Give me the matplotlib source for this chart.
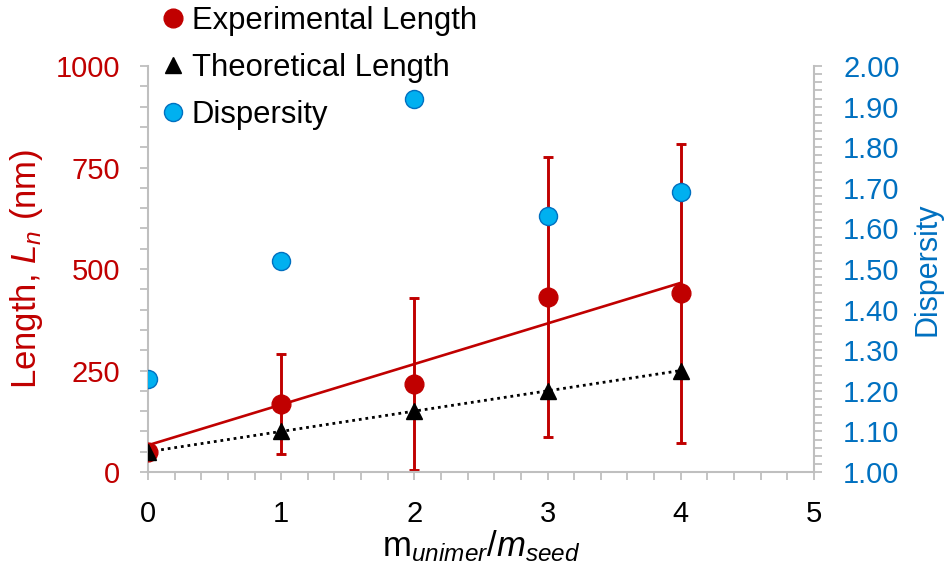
import matplotlib
matplotlib.use("Agg")
import matplotlib.pyplot as plt
from matplotlib.ticker import MultipleLocator, FormatStrFormatter
import numpy as np

plt.rcParams["font.family"] = ["Liberation Sans", "DejaVu Sans"]
plt.rcParams["mathtext.fontset"] = "custom"
plt.rcParams["mathtext.rm"] = "Liberation Sans"
plt.rcParams["mathtext.it"] = "Liberation Sans:italic"

# data
ratio = np.array([0, 1, 2, 3, 4])
exp_length = np.array([50, 167, 217, 432, 440])
exp_err = np.array([16, 123, 212, 345, 368])
theo_length = np.array([50, 100, 150, 200, 250])
dispersity = np.array([1.23, 1.52, 1.92, 1.63, 1.69])
# Excel linear trendline on experimental length (slope, intercept)
exp_trend = (100.0, 66.0)

RED = "#c00000"
BLUE_FILL = "#00b0f0"
BLUE_TXT = "#0070c0"
GREY = "#bfbfbf"

fig = plt.figure(figsize=(9.46, 5.66), dpi=100)
ax = fig.add_axes([0.1564, 0.166, 0.704, 0.7173])
ax2 = ax.twinx()

ax.errorbar(ratio, exp_length, yerr=exp_err, fmt="none", ecolor=RED, elinewidth=2.1,
            capsize=3.8, capthick=2.1, zorder=2)
xt = np.array([ratio.min(), ratio.max()])
ax.plot(xt, exp_trend[0] * xt + exp_trend[1], color=RED, lw=1.9, zorder=3)
ax.plot(ratio, theo_length, color="black", lw=2.0, ls=(0, (1, 1.4)), zorder=3)
h1, = ax.plot(ratio, exp_length, "o", color=RED, ms=13.5, ls="none", zorder=4,
              label="Experimental Length")
h2, = ax.plot(ratio, theo_length, "^", color="black", ms=12, ls="none", zorder=5,
              label="Theoretical Length")
h3, = ax2.plot(ratio, dispersity, "o", mfc=BLUE_FILL, mec=BLUE_TXT, mew=1.0, ms=13,
               ls="none", label="Dispersity")

ax.set_xlim(0, 5)
ax.set_ylim(0, 1000)
ax2.set_ylim(1.0, 2.0)
ax.xaxis.set_major_locator(MultipleLocator(1))
ax.xaxis.set_minor_locator(MultipleLocator(0.2))
ax.yaxis.set_major_locator(MultipleLocator(250))
ax.yaxis.set_minor_locator(MultipleLocator(50))
ax2.yaxis.set_major_locator(MultipleLocator(0.1))
ax2.yaxis.set_minor_locator(MultipleLocator(0.02))
ax2.yaxis.set_major_formatter(FormatStrFormatter("%.2f"))

for a in (ax, ax2):
    a.spines["top"].set_visible(False)
    for s in ("left", "right", "bottom"):
        a.spines[s].set_color(GREY)
        a.spines[s].set_linewidth(1.5)
    a.tick_params(which="both", color=GREY, width=1.3, length=6, direction="out")
    a.tick_params(which="major", labelsize=21, pad=14)
ax.spines["right"].set_visible(False)
ax2.spines["left"].set_visible(False)
ax2.spines["bottom"].set_visible(False)
ax.tick_params(axis="y", labelcolor=RED)
ax.tick_params(axis="x", labelcolor="black")
ax2.tick_params(axis="y", labelcolor=BLUE_TXT, pad=15)

ax.set_ylabel(r"Length, $L_n$ (nm)", color=RED, fontsize=25)
ax.yaxis.set_label_coords(-0.155, 0.5)
ax.set_xlabel(r"m$_{unimer}$/$m_{seed}$", fontsize=25, labelpad=0)
ax2.set_ylabel("Dispersity", color=BLUE_TXT, fontsize=22)
ax2.yaxis.set_label_coords(1.148, 0.5)

fig.legend(handles=[h1, h2, h3], loc="upper left", bbox_to_anchor=(0.16, 1.012),
           frameon=False, fontsize=22.3, handlelength=0.6, handletextpad=0.3,
           labelspacing=0.56, borderaxespad=0)

fig.savefig("out.png", dpi=100)
plt.close(fig)
